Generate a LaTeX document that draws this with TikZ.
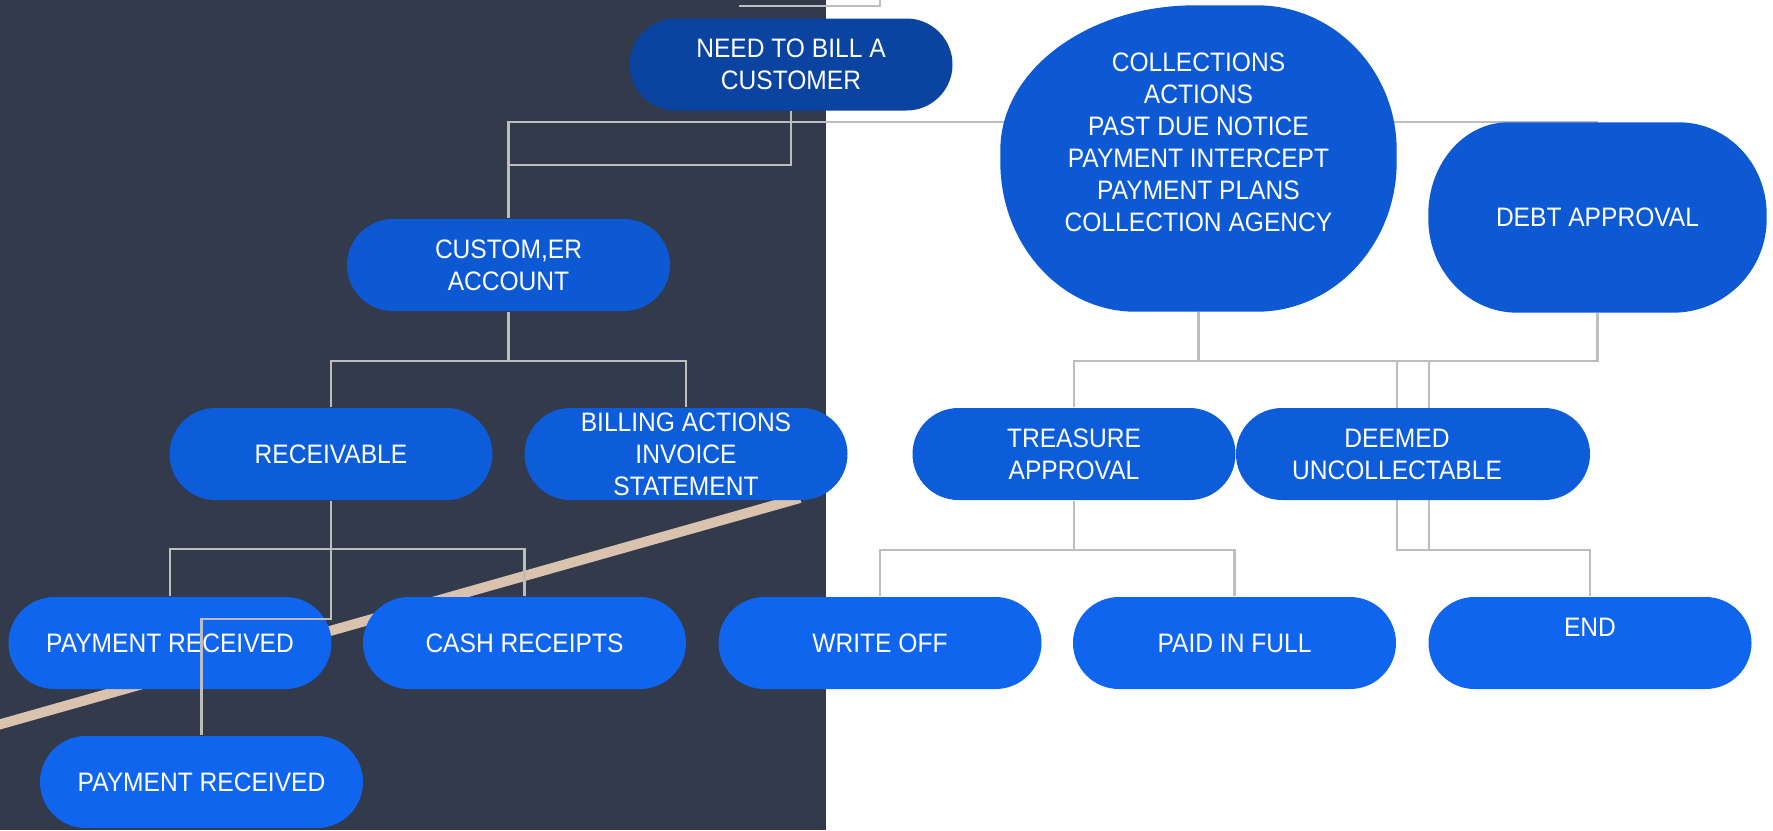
\documentclass[tikz,border=0pt]{standalone}
\usepackage{fontspec}
\setmainfont{Liberation Sans}[FakeStretch=0.92]
\usepackage{tikz}
\usetikzlibrary{calc}

\definecolor{slate}{HTML}{323A4C}
\definecolor{deepblue}{HTML}{0B43A0}
\definecolor{midblue}{HTML}{0D59D4}
\definecolor{rowblue}{HTML}{0D5CDA}
\definecolor{lightblue}{HTML}{1065EE}
\definecolor{sand}{HTML}{D9C3AE}
\definecolor{wire}{HTML}{BDBDBD}

\pgfdeclarelayer{back}
\pgfsetlayers{back,main}

\tikzset{
  pill/.style={rectangle, rounded corners=4.6mm, minimum width=32.3mm, minimum height=9.2mm,
    inner sep=0pt, text=white, align=center, font=\fontsize{7.6pt}{9.1pt}\selectfont},
  softnode/.style={rectangle, inner sep=0pt, text=white, align=center,
    font=\fontsize{7.6pt}{9.1pt}\selectfont},
  link/.style={draw=wire, line width=0.22mm},
  sandline/.style={draw=sand, line width=1mm}
}

% filled box with elliptic corners round a node:
% name, colour, x radii (top left, top right, bottom right, bottom left), y radii (top, bottom)
\newcommand\softbox[8]{%
  \fill[#2] ($(#1.north west)+(0,#7)$) arc[start angle=180, end angle=270, x radius=#3, y radius=#7]
    -- ($(#1.north east)+(-#4,0)$) arc[start angle=270, end angle=360, x radius=#4, y radius=#7]
    -- ($(#1.south east)+(0,-#8)$) arc[start angle=0, end angle=90, x radius=#5, y radius=#8]
    -- ($(#1.south west)+(#6,0)$) arc[start angle=90, end angle=180, x radius=#6, y radius=#8]
    -- cycle;}

\begin{document}
\begin{tikzpicture}[x=0.1mm, y=-0.1mm]
\useasboundingbox (0,0) rectangle (1773,830);

% top row
\node[pill, fill=deepblue] (need) at (791,64.5) {NEED TO BILL A\\CUSTOMER};
\node[softnode, minimum width=39.5mm, minimum height=30.5mm] (coll) at (1198.5,158.5)
  {COLLECTIONS\\ACTIONS\\PAST DUE NOTICE\\PAYMENT INTERCEPT\\PAYMENT PLANS\\COLLECTION AGENCY\\\mbox{}};
\node[softnode, minimum width=33.7mm, minimum height=18.9mm] (debt) at (1597.5,217.5) {DEBT APPROVAL};
\node[pill, fill=midblue] (cust) at (508.5,265) {CUSTOM,ER\\ACCOUNT};

% second row
\node[pill, fill=rowblue] (recv) at (331,454) {RECEIVABLE};
\node[pill, fill=rowblue] (bill) at (686,454) {BILLING ACTIONS\\INVOICE\\STATEMENT};
\node[pill, fill=rowblue] (treas) at (1074,454) {TREASURE\\APPROVAL};
\node[pill, fill=rowblue, minimum width=35.4mm] (deem) at (1413,454)
  {DEEMED\hspace*{3.2mm}\\UNCOLLECTABLE\hspace*{3.2mm}};

% third row
\node[pill, fill=lightblue] (payA) at (170,643) {PAYMENT RECEIVED};
\node[pill, fill=lightblue] (cash) at (524.5,643) {CASH RECEIPTS};
\node[pill, fill=lightblue] (write) at (880,643) {WRITE OFF};
\node[pill, fill=lightblue] (paid) at (1234.5,643) {PAID IN FULL};
\node[pill, fill=lightblue] (end) at (1590,643) {END\\\mbox{}};
\node[pill, fill=lightblue] (payB) at (201.5,782) {PAYMENT RECEIVED};

\coordinate (topA) at (739,6);
\coordinate (topB) at (880,-5);
\coordinate (sandA) at (-20,730);
\coordinate (sandB) at (800,498);

\begin{pgfonlayer}{back}
\fill[white] (0,0) rectangle (1773,830);
\fill[slate] (0,0) rectangle (826,830);
\draw[sandline] (sandA) -- (sandB);
\draw[link] (topA) -| (topB);
\draw[link] (need.south) -- ++(0,54) -| (cust.north);
\draw[link] (cust.north) |- (debt.north);
\draw[link] (cust.south) -- ++(0,49) -| (recv.north);
\draw[link] (cust.south) -- ++(0,49) -| (bill.north);
\draw[link] (recv.south) -- ++(0,48) -| (payA.north);
\draw[link] (recv.south) -- ++(0,48) -| (cash.north);
\draw[link] (coll.south) -- ++(0,49) -| (treas.north);
\draw[link] (debt.south) -- ++(0,48) -| (treas.north);
\draw[link] (coll.south) -- ++(0,49) -| ($(deem.north)+(-16,0)$) -- ($(deem.south)+(-16,49)$) -| (end.north);
\draw[link] (debt.south) -- ++(0,48) -| ($(deem.north)+(16,0)$) -- ($(deem.south)+(16,49)$) -| (end.north);
\draw[link] (treas.south) -- ++(0,49) -| (write.north);
\draw[link] (treas.south) -- ++(0,49) -| (paid.north);
\softbox{coll}{midblue}{195}{140}{140}{135}{145}{150}
\softbox{debt}{midblue}{80}{88}{94}{89}{92}{94}
\end{pgfonlayer}
\draw[link] (recv.south) -- ++(0,118) -| (payB.north);
\end{tikzpicture}
\end{document}
